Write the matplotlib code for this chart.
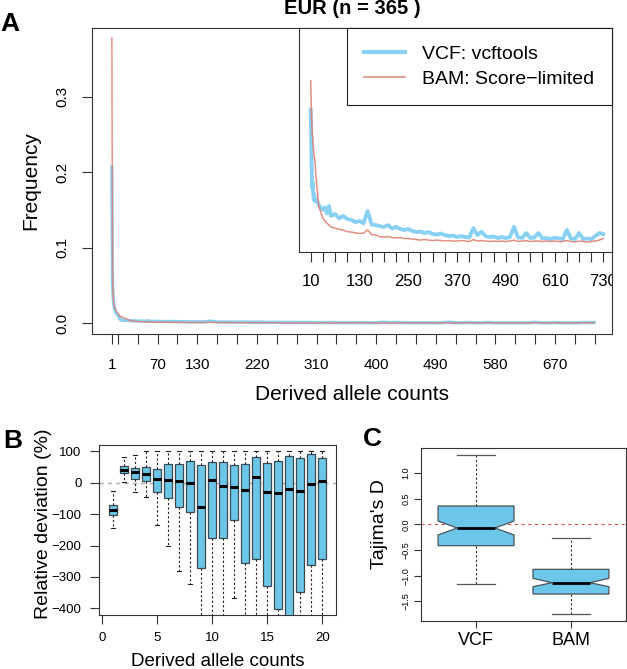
import numpy as np
import matplotlib
matplotlib.use('Agg')
import matplotlib.pyplot as plt

plt.rcParams['font.family'] = ['Liberation Sans', 'DejaVu Sans']

# --- panel A: site frequency spectrum (frequency values in units of 1e-4)
counts = [1, 2, 3, 4, 5, 6, 7, 8, 9, 10, 11, 12, 13, 14, 15, 16, 17, 18, 19, 20,
          25, 30, 35, 40, 45, 50, 55, 60, 70, 80, 90, 100, 110, 120, 130, 140,
          150, 160, 170, 180, 190, 200, 210, 220, 230, 240, 250, 260, 270, 280,
          290, 300, 310, 320, 330, 340, 350, 360, 370, 380, 390, 400, 410, 420,
          430, 440, 450, 460, 470, 480, 490, 500, 510, 520, 530, 540, 550, 560,
          570, 580, 590, 600, 610, 620, 630, 640, 650, 660, 670, 680, 690, 700,
          710, 720, 729]
vcf_e4 = [2070, 520, 330, 240, 190, 165, 145, 130, 120, 112, 95, 70, 55, 48, 52, 45, 40, 38, 42, 37,
          38, 34, 31.5, 30, 32, 27, 33, 25, 26.6, 23, 25, 22.5, 21.7, 20, 20.8, 19,
          29, 18, 17.5, 16.7, 15.9, 17.5, 14.7, 16, 14.3, 13.4, 14.3, 12.6, 11.8, 12.2,
          11, 11.8, 10.2, 9.7, 10.6, 9.3, 8.5, 8.9, 7.7, 8.5, 7.7, 7.3, 15, 9.3,
          12, 8.5, 7.7, 8.1, 6.9, 7.7, 6.9, 7.7, 16, 7.3, 6.9, 11, 6.9, 7.3,
          11, 6.5, 6.9, 6, 7.3, 6.5, 6, 13.4, 6.5, 6, 11, 6, 6.5, 6,
          8.5, 11, 10.2]
bam_e4 = [3780, 600, 350, 260, 210, 190, 170, 160, 145, 136, 120, 108, 99.6, 91, 90, 83, 79, 75, 72.6, 71,
          49, 32.6, 28, 23, 21, 19, 17.5, 16, 15, 14, 13.4, 12, 11.8, 11, 10.6, 11,
          13.4, 9.7, 9.3, 8, 7.7, 8.1, 7.3, 6.9, 7.3, 6.5, 6.5, 6, 5.6, 5.2,
          5.6, 5.2, 4.8, 5.2, 4.8, 4.4, 4.8, 4.4, 4.4, 4.8, 4.4, 4, 5.6, 4.4,
          4.8, 4.4, 4, 4.4, 4, 4.4, 4, 4.4, 5.2, 4, 4.4, 4.8, 4, 4.4,
          4.4, 4, 4.4, 4, 4.4, 4, 4, 4.8, 4, 3.6, 4.4, 4, 3.6, 4,
          4.4, 5.2, 6.5]
main_ticks = [1] + list(range(10, 731, 30))
main_labels = ['1', '70', '130', '220', '310', '400', '490', '580', '670']
inset_ticks = list(range(10, 731, 30))
inset_labels = ['10', '130', '250', '370', '490', '610', '730']

# --- panel B: relative deviation per derived allele count
b_pos = list(range(1, 21))
b_whishi = [-25, 81, 87, 100, 100, 100, 100, 100, 100, 100, 100, 100, 100, 100, 100, 100, 100, 100, 101, 100]
b_q3 = [-70, 52, 46, 49, 43, 59, 59, 69, 56, 66, 64.5, 56, 58, 83, 62, 69, 84, 78.5, 92.5, 79.6]
b_med = [-87, 41, 34, 28, 13, 7.5, 6.5, -1, -78.5, 10, -11, -15, -24, 18, -31, -34, -20, -25, -5, 5]
b_q1 = [-103, 30, 13, 4, -30, -48, -77, -94, -273, -176, -176, -118, -257, -244, -328, -401, -470, -349, -263, -244]
b_whislo = [-143, 3, -30, -47, -133, -201, -280, -321, -600, -600, -600, -366, -600, -600, -600, -600, -700, -600, -600, -600]

# --- panel C: Tajima's D
c_names = ['VCF', 'BAM']
c_whishi = [1.35, -0.272]
c_q3 = [0.356, -0.876]
c_cihi = [0.064, -1.051]
c_med = [-0.072, -1.136]
c_cilo = [-0.208, -1.214]
c_q1 = [-0.416, -1.356]
c_whislo = [-1.167, -1.753]

BLUE = '#62c2ee'
RED = '#e07a6c'
FILL = '#6cc6ea'
DARK = '#333333'

W, H = 627, 669
fig = plt.figure(figsize=(W / 100, H / 100), dpi=100)


def box(l, t, r, b):
    return [l / W, 1 - b / H, (r - l) / W, (b - t) / H]


def style(a):
    for s in a.spines.values():
        s.set_color(DARK)
        s.set_linewidth(0.8)
    a.tick_params(color=DARK, width=0.8)


x = np.array(counts)
vcf = np.array(vcf_e4) * 1e-4
bam = np.array(bam_e4) * 1e-4

# A main
ax = fig.add_axes(box(92, 28, 612, 334))
ax.plot(x, vcf, color=BLUE, lw=2.4, alpha=0.75, solid_joinstyle='round')
ax.plot(x, bam, color=RED, lw=1.1, alpha=0.8)
ax.set_xlim(-29, 756)
ax.set_ylim(-0.01417, 0.3911)
ax.set_xticks(main_ticks)
ax.set_xticklabels([str(t) if str(t) in main_labels else '' for t in main_ticks], fontsize=11)
ax.set_yticks([0, 0.1, 0.2, 0.3])
ax.set_yticklabels(['0.0', '0.1', '0.2', '0.3'], rotation=90, va='center', fontsize=11)
style(ax)
ax.tick_params(axis='x', length=7, pad=10)
ax.tick_params(axis='y', length=7, pad=9)

# A inset
ins = fig.add_axes(box(299, 28, 612, 252))
sel = x >= 10
l1, = ins.plot(x[sel], vcf[sel], color=BLUE, lw=2.8, alpha=0.75, solid_joinstyle='round')
l2, = ins.plot(x[sel], bam[sel], color=RED, lw=1.1, alpha=0.85)
ins.set_xlim(-18.8, 751)
ins.set_ylim(-0.00046, 0.01793)
ins.set_yticks([])
ins.set_xticks(inset_ticks)
ins.set_xticklabels([str(t) if str(t) in inset_labels else '' for t in inset_ticks], fontsize=12)
style(ins)
ins.tick_params(axis='x', length=7, pad=9)
for lab in ins.get_xticklabels():
    lab.set_clip_on(True)
    lab.set_clip_box(ax.bbox)
leg = ins.legend([l1, l2], ['VCF: vcftools', 'BAM: Score\u2212limited'],
                 loc='upper right', bbox_to_anchor=(1, 1), borderaxespad=0,
                 fontsize=14, frameon=True, fancybox=False, framealpha=1,
                 edgecolor='#222222', handlelength=2.1, handletextpad=0.9,
                 labelspacing=0.35, borderpad=0.9)
leg.get_frame().set_linewidth(0.8)
leg.legend_handles[0].set_linewidth(3)
leg.legend_handles[1].set_linewidth(1.2)

fig.text(352 / W, 1 - 8.5 / H, 'EUR (n = 365 )', ha='center', va='center',
         fontsize=14.5, fontweight='bold')
fig.text(10 / W, 1 - 24 / H, 'A', ha='center', va='center', fontsize=19, fontweight='bold')
fig.text(31 / W, 1 - 181 / H, 'Frequency', ha='center', va='center', rotation=90, fontsize=15)
fig.text(352 / W, 1 - 395 / H, 'Derived allele counts', ha='center', va='center', fontsize=15)

# B
axB = fig.add_axes(box(99, 445, 336, 615))
statsB = [dict(med=m, q1=a, q3=b, whislo=lo, whishi=hi, fliers=[])
          for m, a, b, lo, hi in zip(b_med, b_q1, b_q3, b_whislo, b_whishi)]
axB.axhline(0, color='#aaaaaa', lw=1, ls=(0, (3, 3)), zorder=0)
axB.bxp(statsB, positions=b_pos, widths=0.72, capwidths=0.36, patch_artist=True,
        showfliers=False,
        boxprops=dict(facecolor=FILL, edgecolor='#3d4a52', linewidth=0.9),
        medianprops=dict(color='black', linewidth=2.2, solid_capstyle='butt'),
        whiskerprops=dict(color='#222222', linewidth=0.8, linestyle=(0, (2, 2))),
        capprops=dict(color='#222222', linewidth=0.8))
axB.set_xlim(-0.3, 21.25)
axB.set_ylim(-421, 120)
axB.set_xticks([0, 5, 10, 15, 20])
axB.set_xticklabels(['0', '5', '10', '15', '20'], fontsize=9.5)
axB.set_yticks([100, 0, -100, -200, -300, -400])
axB.tick_params(axis='y', labelsize=9.5)
style(axB)
axB.tick_params(length=6.5, pad=6)
fig.text(13 / W, 1 - 441 / H, 'B', ha='center', va='center', fontsize=19, fontweight='bold')
fig.text(43 / W, 1 - 524 / H, 'Relative deviation (%)', ha='center', va='center',
         rotation=90, fontsize=14)
fig.text(218 / W, 1 - 662 / H, 'Derived allele counts', ha='center', va='center', fontsize=13.5)

# C
axC = fig.add_axes(box(421, 448, 626, 621))
statsC = [dict(med=m, q1=a, q3=b, whislo=lo, whishi=hi, cilo=cl, cihi=ch, fliers=[])
          for m, a, b, lo, hi, cl, ch in zip(c_med, c_q1, c_q3, c_whislo, c_whishi, c_cilo, c_cihi)]
axC.axhline(0, color='#e05a50', lw=0.8, ls=(0, (3, 3)), zorder=0)
axC.bxp(statsC, positions=[1, 2], widths=0.8, capwidths=0.4, patch_artist=True,
        shownotches=True, showfliers=False,
        boxprops=dict(facecolor=FILL, edgecolor='#4a5258', linewidth=0.9),
        medianprops=dict(color='black', linewidth=2, solid_capstyle='butt'),
        whiskerprops=dict(color='#333333', linewidth=0.8, linestyle=(0, (2, 2))),
        capprops=dict(color='#555555', linewidth=0.9))
axC.set_xlim(0.42, 2.58)
axC.set_ylim(-1.881, 1.484)
axC.set_xticks([1, 2])
axC.set_xticklabels(c_names, fontsize=13)
axC.set_yticks([-1.5, -1.0, -0.5, 0.0, 0.5, 1.0])
axC.set_yticklabels(['\u22121.5', '\u22121.0', '\u22120.5', '0.0', '0.5', '1.0'],
                    rotation=90, va='center', fontsize=6.5)
style(axC)
axC.tick_params(axis='x', length=5, pad=3)
axC.tick_params(axis='y', length=5, pad=2.5)
fig.text(372 / W, 1 - 439 / H, 'C', ha='center', va='center', fontsize=19, fontweight='bold')
fig.text(380 / W, 1 - 524 / H, "Tajima's D", ha='center', va='center', rotation=90, fontsize=14)

fig.savefig('out.png', dpi=100)
